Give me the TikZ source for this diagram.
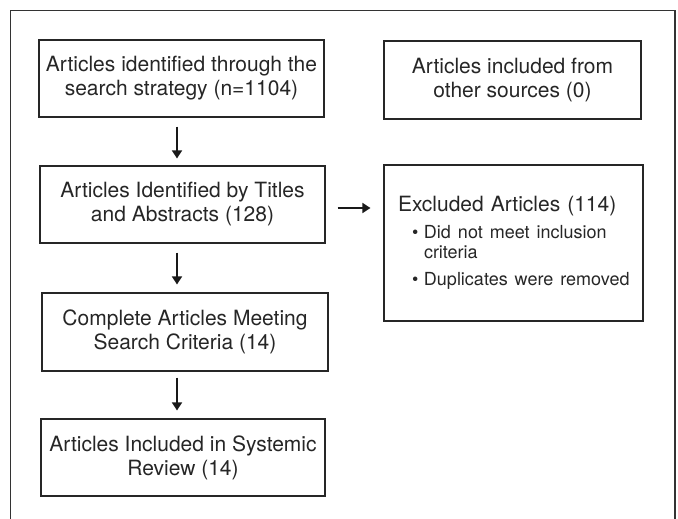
\documentclass[tikz,border=0pt]{standalone}
\usepackage{fontspec}
\setmainfont{TeX Gyre Heros}
\usetikzlibrary{
    arrows.meta,
    calc,
    positioning
}
\tikzset{stagebox/.style={draw=black!85, line width=1.1pt, align=center, inner sep=0pt, text=black!85, font=\fontsize{21}{24}\selectfont}}
\tikzset{flowarr/.style={line width=1.7pt, draw=black!90, -{Triangle[length=8pt, width=10pt]}}}

\begin{document}
\begin{tikzpicture}[x=1pt, y=-1pt]
                                \useasboundingbox (0, 0) rectangle (678, 519);
                                \draw[line width=1.1pt, black!80] (10.7, 519) -- (10.7, 10.7) -- (675, 10.7) -- (675, 519);
                                \node[stagebox, minimum width=285pt, minimum height=77pt] (search) at (181.5, 78.5) {Articles identified through the\\search strategy (n=1104)};
                                \node[stagebox, minimum width=257pt, minimum height=78pt] (other) at (512.5, 80) {Articles included from\\other sources (0)};
                                \node[stagebox, minimum width=285pt, minimum height=77pt] (titles) at (182.5, 204.5) {Articles Identified by Titles\\and Abstracts (128)};
                                \node[stagebox, minimum height=156pt, text width=245pt, inner xsep=7pt, align=left, font=\fontsize{21}{20}\selectfont] (excluded) at (513.5, 243) {\hspace*{7pt}Excluded Articles (114)\\[7.3pt]{\fontsize{18}{20}\selectfont\hspace*{21pt}\makebox[12pt][l]{\textbullet}Did not meet inclusion\\\hspace*{33pt}criteria\\[7pt]\hspace*{21pt}\makebox[12pt][l]{\textbullet}Duplicates were removed}};
                                \node[stagebox, minimum width=286pt, minimum height=78pt] (complete) at (185, 332) {Complete Articles Meeting\\Search Criteria (14)};
                                \node[stagebox, minimum width=284pt, minimum height=77pt] (included) at (183, 457.5) {Articles Included in Systemic\\Review (14)};
                                \coordinate (spine) at (177, 0);
                                \coordinate (feed) at ([yshift=-3.5pt]titles.east);
                                \draw[flowarr, shorten <=9pt, shorten >=7pt] (search.south -| spine) -- (titles.north -| spine);
                                \draw[flowarr, shorten <=9pt, shorten >=8pt] (titles.south -| spine) -- (complete.north -| spine);
                                \draw[flowarr, shorten <=6pt, shorten >=8pt] (complete.south -| spine) -- (included.north -| spine);
                                \draw[flowarr, shorten <=12pt, shorten >=13pt] (feed) -- (feed -| excluded.west);
                            \end{tikzpicture}
\end{document}
